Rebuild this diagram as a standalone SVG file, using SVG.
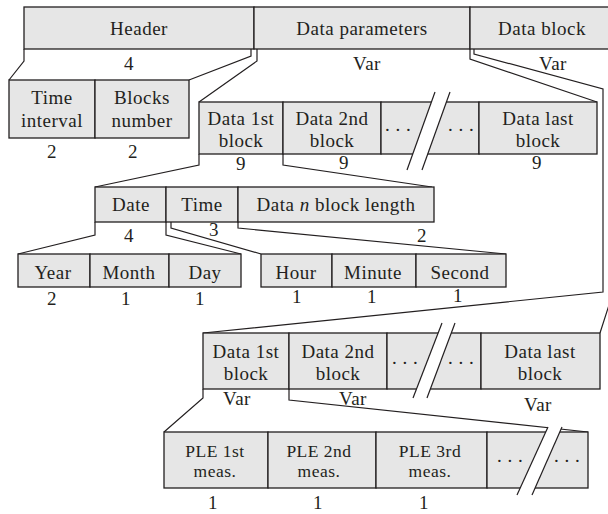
<svg xmlns="http://www.w3.org/2000/svg" width="608" height="514" viewBox="0 0 608 514">
<style>
.box{fill:#e6e6e6;stroke:#231f20;stroke-width:1.3}
.t{font-family:"Liberation Serif","Times New Roman",serif;font-size:19px;fill:#231f20;text-anchor:middle;letter-spacing:0.5px}
.s{font-size:17.5px}
.ln{fill:none;stroke:#231f20;stroke-width:1.2}
.gap{fill:#fff;stroke:none}
.cut{stroke:#231f20;stroke-width:1.2}
</style>
<rect width="608" height="514" fill="#fff"/>

<!-- expansion lines between a field and its sub-fields -->
<g id="connectors" class="ln">
  <polyline points="24,49 24,61 9,80"/>
  <polyline points="251,49 251,56 189,80"/>
  <polyline points="257,49 257,61 199,102"/>
  <polyline points="470,49 470,59 597,102"/>
  <polyline points="474,49 474,54 603,89 603,292 203,333"/>
  <polyline points="609,49 609,305 600,333"/>
  <polyline points="199,154 199,165 95,187"/>
  <polyline points="283,154 283,165 432,187"/>
  <polyline points="95,222 95,235 18,254"/>
  <polyline points="166,222 166,235 241,254"/>
  <polyline points="171,222 171,228 261,254"/>
  <polyline points="238,222 238,228 506,254"/>
  <polyline points="203,389 203,398 164,432"/>
  <polyline points="289,389 289,400 588,432"/>
</g>

<!-- file layout -->
<g id="header"><rect class="box" x="24" y="7" width="230" height="42"/><text class="t" x="139" y="35">Header</text><text class="t" x="129" y="70">4</text></g>
<g id="data-parameters"><rect class="box" x="254" y="7" width="216" height="42"/><text class="t" x="362" y="35">Data parameters</text><text class="t" x="367" y="70">Var</text></g>
<g id="data-block"><rect class="box" x="470" y="7" width="144" height="42"/><text class="t" x="542" y="35">Data block</text><text class="t" x="553" y="70">Var</text></g>

<!-- header fields -->
<g id="time-interval"><rect class="box" x="9" y="80" width="86" height="58"/><text class="t" x="52" y="104">Time</text><text class="t" x="52" y="127">interval</text><text class="t" x="52" y="158">2</text></g>
<g id="blocks-number"><rect class="box" x="95" y="80" width="94" height="58"/><text class="t" x="142" y="104">Blocks</text><text class="t" x="142" y="127">number</text><text class="t" x="133" y="158">2</text></g>

<!-- data parameters -->
<g id="param-1st"><rect class="box" x="199" y="102" width="84" height="52"/><text class="t" x="241" y="125">Data 1st</text><text class="t" x="241" y="147">block</text><text class="t" x="241" y="170">9</text></g>
<g id="param-2nd"><rect class="box" x="283" y="102" width="98" height="52"/><text class="t" x="332" y="125">Data 2nd</text><text class="t" x="332" y="147">block</text><text class="t" x="344" y="169">9</text></g>
<g id="param-more"><rect class="box" x="381" y="102" width="98" height="52"/><text class="t" x="398" y="131">. . .</text><text class="t" x="461" y="131">. . .</text>
  <polygon class="gap" points="435,92 450,92 422,170 407,170"/><line class="cut" x1="435" y1="92" x2="407" y2="170"/><line class="cut" x1="450" y1="92" x2="422" y2="170"/></g>
<g id="param-last"><rect class="box" x="479" y="102" width="118" height="52"/><text class="t" x="538" y="125">Data last</text><text class="t" x="538" y="147">block</text><text class="t" x="537" y="169">9</text></g>

<!-- one parameter block -->
<g id="date"><rect class="box" x="95" y="187" width="71" height="35"/><text class="t" x="131" y="211">Date</text><text class="t" x="129" y="242">4</text></g>
<g id="time"><rect class="box" x="166" y="187" width="72" height="35"/><text class="t" x="202" y="211">Time</text><text class="t" x="214" y="236">3</text></g>
<g id="block-length"><rect class="box" x="238" y="187" width="196" height="35"/><text class="t" x="336" y="211">Data <tspan font-style="italic">n</tspan> block length</text><text class="t" x="422" y="242">2</text></g>

<g id="year"><rect class="box" x="18" y="254" width="72" height="33"/><text class="t" x="53" y="279">Year</text><text class="t" x="52" y="305">2</text></g>
<g id="month"><rect class="box" x="90" y="254" width="79" height="33"/><text class="t" x="129" y="279">Month</text><text class="t" x="126" y="305">1</text></g>
<g id="day"><rect class="box" x="169" y="254" width="72" height="33"/><text class="t" x="205" y="279">Day</text><text class="t" x="200" y="305">1</text></g>
<g id="hour"><rect class="box" x="261" y="254" width="71" height="33"/><text class="t" x="296" y="279">Hour</text><text class="t" x="297" y="303">1</text></g>
<g id="minute"><rect class="box" x="332" y="254" width="84" height="33"/><text class="t" x="373" y="279">Minute</text><text class="t" x="372" y="303">1</text></g>
<g id="second"><rect class="box" x="416" y="254" width="90" height="33"/><text class="t" x="460" y="279">Second</text><text class="t" x="458" y="302">1</text></g>

<!-- data block -->
<g id="data-1st"><rect class="box" x="203" y="333" width="86" height="56"/><text class="t" x="246" y="358">Data 1st</text><text class="t" x="246" y="380">block</text><text class="t" x="237" y="405">Var</text></g>
<g id="data-2nd"><rect class="box" x="289" y="333" width="98" height="56"/><text class="t" x="338" y="358">Data 2nd</text><text class="t" x="338" y="380">block</text><text class="t" x="353" y="405">Var</text></g>
<g id="data-more"><rect class="box" x="387" y="333" width="94" height="56"/><text class="t" x="405" y="364">. . .</text><text class="t" x="461" y="364">. . .</text>
  <polygon class="gap" points="442,323 455,323 427,398 413,398"/><line class="cut" x1="442" y1="323" x2="413" y2="398"/><line class="cut" x1="455" y1="323" x2="427" y2="398"/></g>
<g id="data-last"><rect class="box" x="481" y="333" width="119" height="56"/><text class="t" x="540" y="358">Data last</text><text class="t" x="540" y="380">block</text><text class="t" x="538" y="411">Var</text></g>

<!-- measurements inside one data block -->
<g id="ple-1st"><rect class="box" x="164" y="432" width="104" height="56"/><text class="t s" x="215" y="457">PLE 1st</text><text class="t s" x="215" y="477">meas.</text><text class="t" x="213" y="509">1</text></g>
<g id="ple-2nd"><rect class="box" x="268" y="432" width="108" height="56"/><text class="t s" x="319" y="457">PLE 2nd</text><text class="t s" x="319" y="477">meas.</text><text class="t" x="318" y="509">1</text></g>
<g id="ple-3rd"><rect class="box" x="376" y="432" width="111" height="56"/><text class="t s" x="430" y="457">PLE 3rd</text><text class="t s" x="430" y="477">meas.</text><text class="t" x="424" y="509">1</text></g>
<g id="ple-more"><rect class="box" x="487" y="432" width="101" height="56"/><text class="t" x="510" y="462">. . .</text><text class="t" x="567" y="462">. . .</text>
  <polygon class="gap" points="548,427 562,427 532,495 517,495"/><line class="cut" x1="548" y1="427" x2="517" y2="495"/><line class="cut" x1="562" y1="427" x2="532" y2="495"/></g>
</svg>
